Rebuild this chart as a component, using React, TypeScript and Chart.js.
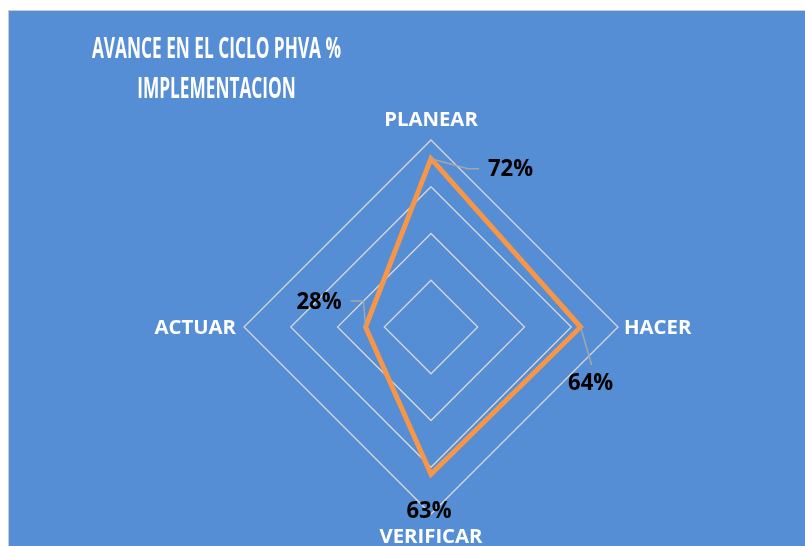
import React, { useEffect, useRef } from "react";
import { Chart, registerables } from "chart.js";

Chart.register(...registerables);

const categories = ["PLANEAR", "HACER", "VERIFICAR", "ACTUAR"];
const avance = [0.72, 0.64, 0.63, 0.28];
const titleLines = ["AVANCE EN EL CICLO PHVA %", "IMPLEMENTACION"];
const scaleMax = 0.8;
const scaleStep = 0.2;

const BLUE = "#558ED5";
const ORANGE = "#F79646";
const FONT = "'Open Sans', Lato, sans-serif";

// data label placement (relative to each point) and leader line paths
const labelOffsets = [
  { dx: 57, dy: 11, align: "left" as CanvasTextAlign, leader: [[37, 10], [48, 10]] },
  { dx: 10, dy: 56, align: "center" as CanvasTextAlign, leader: [[11, 38]] },
  { dx: -2, dy: 37, align: "center" as CanvasTextAlign, leader: [] as number[][] },
  { dx: -24, dy: -25, align: "right" as CanvasTextAlign, leader: [[-2, -26], [-15, -26]] },
];

const bgPlugin = {
  id: "bg",
  beforeDraw(chart: any) {
    const { ctx, width, height } = chart;
    ctx.save();
    ctx.fillStyle = "#ffffff";
    ctx.fillRect(0, 0, width, height);
    ctx.fillStyle = "#C8CCD2";
    ctx.fillRect(8, 10, width - 8, height - 10);
    ctx.fillStyle = BLUE;
    ctx.fillRect(9, 11, width - 9, height - 11);
    ctx.restore();
  },
};

function drawScaled(ctx: CanvasRenderingContext2D, text: string, x: number, y: number, sx: number) {
  ctx.save();
  ctx.translate(x, y);
  ctx.scale(sx, 1);
  ctx.fillText(text, 0, 0);
  ctx.restore();
}

const textPlugin = {
  id: "texts",
  afterDraw(chart: any) {
    const { ctx } = chart;
    const scale = chart.scales.r;
    ctx.save();
    // title (condensed)
    ctx.fillStyle = "#ffffff";
    ctx.font = `bold 29px ${FONT}`;
    ctx.textAlign = "center";
    ctx.textBaseline = "alphabetic";
    const baselines = [58, 98];
    titleLines.forEach((t, i) => drawScaled(ctx, t, 216.5, baselines[i], 0.595));

    // category labels
    ctx.font = `bold 19px ${FONT}`;
    const r = scale.drawingArea;
    const pads = [14, 6, 29, 8];
    const sx = 1.07;
    categories.forEach((c, i) => {
      const p = scale.getPointPosition(i, r + pads[i]);
      if (i === 0 || i === 2) {
        ctx.textAlign = "center";
        drawScaled(ctx, c, p.x, p.y, sx);
      } else if (i === 1) {
        ctx.textAlign = "left";
        drawScaled(ctx, c, p.x, p.y + 7, sx);
      } else {
        ctx.textAlign = "right";
        drawScaled(ctx, c, p.x, p.y + 7, sx);
      }
    });

    // data labels with leader lines
    const meta = chart.getDatasetMeta(0);
    meta.data.forEach((pt: any, i: number) => {
      const o = labelOffsets[i];
      if (o.leader.length) {
        ctx.strokeStyle = "#A6A6A6";
        ctx.lineWidth = 1.5;
        ctx.beginPath();
        ctx.moveTo(pt.x, pt.y);
        o.leader.forEach(([lx, ly]) => ctx.lineTo(pt.x + lx, pt.y + ly));
        ctx.stroke();
      }
      ctx.fillStyle = "#000000";
      ctx.font = `bold 23px ${FONT}`;
      ctx.textAlign = o.align;
      ctx.textBaseline = "middle";
      drawScaled(ctx, `${Math.round(avance[i] * 100)}%`, pt.x + o.dx, pt.y + o.dy, 0.96);
    });
    ctx.restore();
  },
};

export default function App() {
  const ref = useRef<HTMLCanvasElement>(null);
  useEffect(() => {
    if (!ref.current) return;
    const chart = new Chart(ref.current, {
      type: "radar",
      data: {
        labels: categories,
        datasets: [
          {
            label: "Avance",
            data: avance,
            borderColor: ORANGE,
            backgroundColor: "rgba(0,0,0,0)",
            borderWidth: 5,
            pointRadius: 0,
            fill: false,
          },
        ],
      },
      options: {
        responsive: false,
        animation: false,
        layout: { padding: { top: 140, bottom: 32, left: 100, right: 43 } },
        plugins: { legend: { display: false }, title: { display: false }, tooltip: { enabled: false } },
        scales: {
          r: {
            min: 0,
            max: scaleMax,
            ticks: { stepSize: scaleStep, display: false },
            grid: { color: "#D9D9D9", lineWidth: 1.25 },
            angleLines: { display: false },
            pointLabels: { display: false },
          },
        },
      },
      plugins: [bgPlugin, textPlugin],
    });
    return () => chart.destroy();
  }, []);
  return (
    <div style={{ position: "fixed", left: 0, top: 0, width: 805, height: 546 }}>
      <canvas ref={ref} width={805} height={546} />
    </div>
  );
}
